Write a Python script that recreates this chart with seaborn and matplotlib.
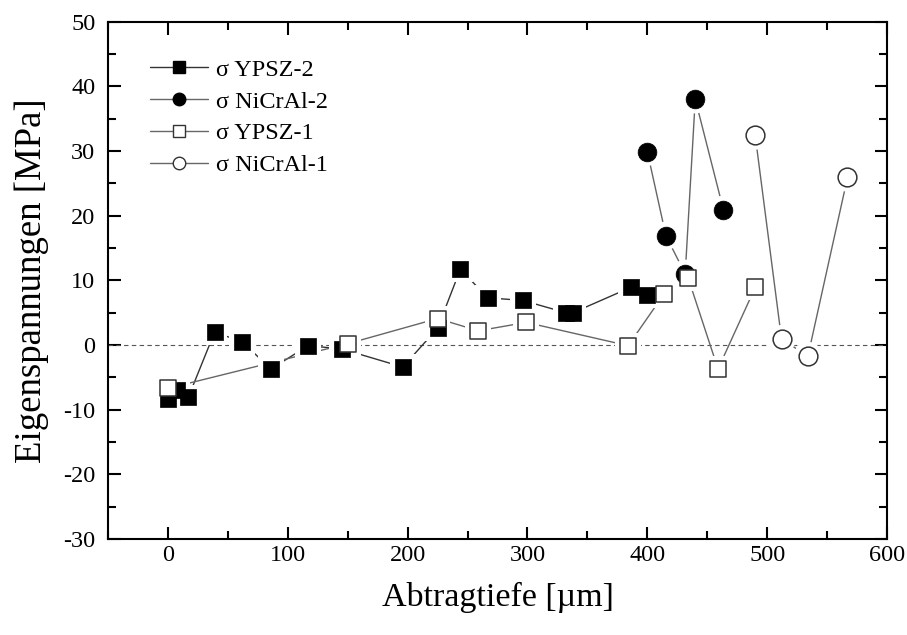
import numpy as np
import pandas as pd
import matplotlib
matplotlib.use('Agg')
import matplotlib.pyplot as plt
from matplotlib.lines import Line2D
from matplotlib.ticker import MultipleLocator
import seaborn as sns

sns.set_style('ticks')
plt.rcParams['font.family'] = ['Liberation Serif', 'DejaVu Serif']
plt.rcParams['text.color'] = 'black'
plt.rcParams['axes.labelcolor'] = 'black'
plt.rcParams['axes.unicode_minus'] = False  # "-10" statt "−10"

ypsz2_x = [0, 8, 17, 39, 62, 86, 117, 145, 196, 225, 244, 267, 296, 332, 338, 386, 400]
ypsz2_y = [-8.3, -7.0, -8.1, 2.0, 0.5, -3.7, -0.1, -0.6, -3.4, 2.6, 11.7, 7.3, 6.9, 5.0, 5.0, 8.9, 7.7]

nicral2_x = [400, 415.5, 431.6, 440, 463.5]
nicral2_y = [29.9, 16.9, 11.0, 38.0, 20.9]

ypsz1_x = [0, 150, 225, 259, 299, 384, 414, 434, 459, 490]
ypsz1_y = [-6.7, 0.2, 4.1, 2.2, 3.5, -0.1, 7.9, 10.4, -3.7, 8.9]

nicral1_x = [490, 512, 534, 567]
nicral1_y = [32.4, 0.9, -1.7, 25.9]

labels = ['σ YPSZ-2', 'σ NiCrAl-2', 'σ YPSZ-1', 'σ NiCrAl-1']

series = [
    (ypsz2_x, ypsz2_y, 's', 'black', 'black', '#333333'),
    (nicral2_x, nicral2_y, 'o', 'black', 'black', '#666666'),
    (ypsz1_x, ypsz1_y, 's', 'white', '#333333', '#666666'),
    (nicral1_x, nicral1_y, 'o', 'white', '#333333', '#666666'),
]

fig = plt.figure(figsize=(9.07, 6.35), dpi=100)
ax = fig.add_axes([0.119, 0.151, 0.859, 0.815])

ax.axhline(0, color='#555555', lw=0.8, ls=(0, (4, 3)), zorder=1)

# Linien
for x, y, m, fc, ec, lc in series:
    sns.lineplot(x=x, y=y, sort=False, estimator=None, color=lc, lw=1.0, ax=ax, zorder=2)

# weisser Rand um die Symbole (Luecke zwischen Linie und Symbol)
for x, y, m, fc, ec, lc in series:
    size = 342 if m == 's' else 420
    sns.scatterplot(x=x, y=y, marker=m, s=size, color='white', edgecolor='none',
                    ax=ax, zorder=3, legend=False)

# Symbole
for x, y, m, fc, ec, lc in series:
    size = 132 if m == 's' else 182
    lw = 0.5 if fc == 'black' else 1.1
    sns.scatterplot(x=x, y=y, marker=m, s=size, color=fc, edgecolor=ec, linewidth=lw,
                    ax=ax, zorder=4, legend=False)

ax.set_xlim(-50, 600)
ax.set_ylim(-30, 50)
ax.xaxis.set_major_locator(MultipleLocator(100))
ax.xaxis.set_minor_locator(MultipleLocator(50))
ax.yaxis.set_major_locator(MultipleLocator(10))
ax.yaxis.set_minor_locator(MultipleLocator(5))
ax.tick_params(which='both', direction='in', top=True, right=True, width=1.5, colors='black')
ax.tick_params(which='major', length=9, labelsize=17.5)
ax.tick_params(axis='y', which='major', pad=9)
ax.tick_params(axis='x', which='major', pad=4)
ax.tick_params(which='minor', length=5.5)
for s in ax.spines.values():
    s.set_linewidth(1.5)
    s.set_color('black')

ax.set_xlabel('Abtragtiefe [µm]', fontsize=24.5, labelpad=12)
ax.set_ylabel('Eigenspannungen [MPa]', fontsize=26.5, labelpad=10)

handles = []
for x, y, m, fc, ec, lc in series:
    handles.append(Line2D([], [], color=lc, lw=1.0, marker=m, markersize=9,
                          markerfacecolor=fc, markeredgecolor=ec, markeredgewidth=1.0))
ax.legend(handles, labels, loc='upper left', bbox_to_anchor=(0.054, 0.928),
          frameon=False, fontsize=17.5, borderpad=0, borderaxespad=0,
          handlelength=2.4, handletextpad=0.3, labelspacing=0.4)

fig.savefig('out.png', dpi=100)
